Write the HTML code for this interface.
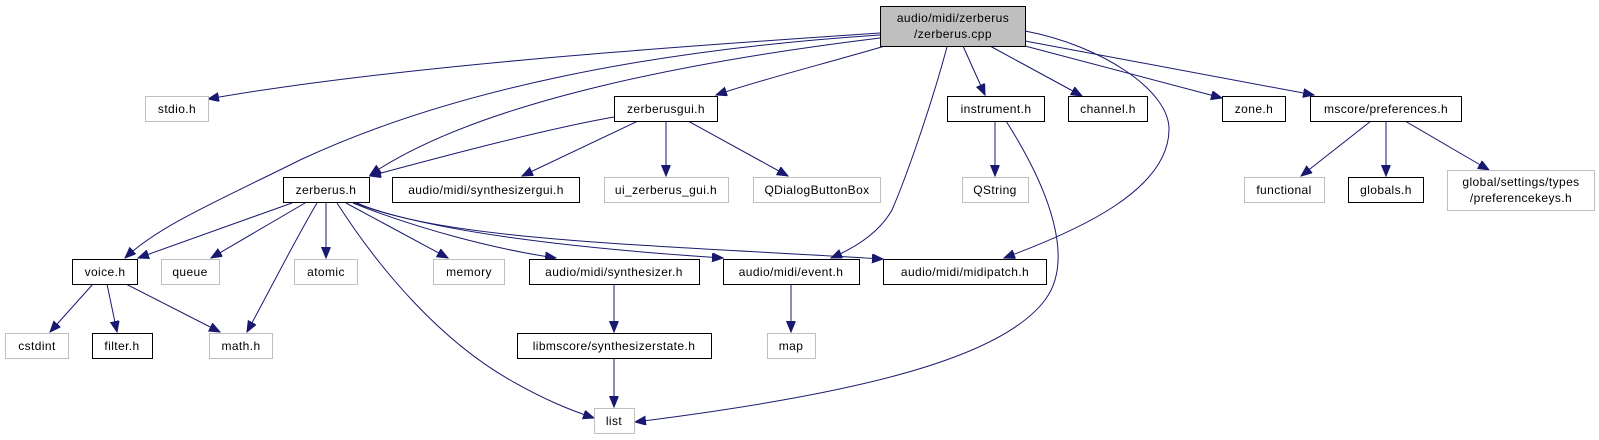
<!DOCTYPE html>
<html><head><meta charset="utf-8"><style>
html,body{margin:0;padding:0;background:#fff;}
svg{display:block;}
text{font-family:"Liberation Sans",sans-serif;font-size:12px;letter-spacing:0.4px;fill:#000;text-anchor:middle;}
.b{fill:#fff;stroke:#000;stroke-width:1;}
.g{fill:#fff;stroke:#bfbfbf;stroke-width:1;}
path{fill:none;stroke:#191970;stroke-width:1;}
</style></head><body>
<svg width="1599" height="440" viewBox="0 0 1599 440" xmlns="http://www.w3.org/2000/svg">
<defs>
<marker id="a" markerUnits="userSpaceOnUse" markerWidth="12" markerHeight="10" refX="11" refY="4.5" orient="auto">
<polygon points="0,0 11,4.5 0,9" fill="#191970" stroke="#191970"/>
</marker>
</defs>
<g marker-end="url(#a)">
<path d="M880,33 C700,45 400,65 208,99"/>
<path d="M885,46 C820,65 760,80 716,95"/>
<path d="M880,38 C700,60 480,100 370,175"/>
<path d="M880,35 C650,50 450,90 300,160 C220,200 160,225 125,258"/>
<path d="M614,117 C540,130 430,160 370,176"/>
<path d="M638,121 L522,176"/>
<path d="M666,121 L666,176"/>
<path d="M688,121 L788,176"/>
<path d="M947,47 C930,110 905,180 892,210 C878,235 850,250 831,258"/>
<path d="M963,46 L985,95"/>
<path d="M990,46 L1082,96"/>
<path d="M1025,46 L1222,98"/>
<path d="M1025,41 L1314,95"/>
<path d="M1025,31 C1100,45 1170,90 1169,130 C1168,190 1080,230 1004,258"/>
<path d="M995,121 L995,176"/>
<path d="M1006,121 C1050,190 1075,260 1045,300 C1000,360 850,395 635,422"/>
<path d="M1371,121 L1301,176"/>
<path d="M1386,121 L1386,176"/>
<path d="M1405,121 L1489,170"/>
<path d="M292,203 L138,258"/>
<path d="M305,203 L211,258"/>
<path d="M317,203 C295,240 270,290 247,332"/>
<path d="M326,203 L326,258"/>
<path d="M337,203 C380,270 440,340 510,380 C545,400 570,410 594,418"/>
<path d="M346,203 L448,258"/>
<path d="M353,203 C420,230 500,250 556,258"/>
<path d="M355,203 C440,235 600,250 723,258"/>
<path d="M357,203 C440,240 650,245 883,259"/>
<path d="M93,284 L50,332"/>
<path d="M107,284 L117,332"/>
<path d="M126,284 L220,332"/>
<path d="M614,284 L614,332"/>
<path d="M614,359 L614,407"/>
<path d="M791,284 L791,332"/>
</g>
<rect x="880.5" y="6.5" width="145" height="40" fill="#bfbfbf" stroke="#000"/>
<text x="953" y="22">audio/midi/zerberus</text>
<text x="953" y="38">/zerberus.cpp</text>

<rect class="g" x="145.5" y="96.5" width="63" height="25"/><text x="177" y="113">stdio.h</text>
<rect class="b" x="614.5" y="96.5" width="103" height="25"/><text x="666" y="113">zerberusgui.h</text>
<rect class="b" x="947.5" y="96.5" width="97" height="25"/><text x="996" y="113">instrument.h</text>
<rect class="b" x="1068.5" y="96.5" width="79" height="25"/><text x="1108" y="113">channel.h</text>
<rect class="b" x="1222.5" y="96.5" width="63" height="25"/><text x="1254" y="113">zone.h</text>
<rect class="b" x="1310.5" y="96.5" width="151" height="25"/><text x="1386" y="113">mscore/preferences.h</text>

<rect class="b" x="283.5" y="177.5" width="86" height="25"/><text x="326" y="194">zerberus.h</text>
<rect class="b" x="392.5" y="177.5" width="187" height="25"/><text x="486" y="194">audio/midi/synthesizergui.h</text>
<rect class="g" x="604.5" y="177.5" width="124" height="25"/><text x="666" y="194">ui_zerberus_gui.h</text>
<rect class="g" x="753.5" y="177.5" width="127" height="25"/><text x="817" y="194">QDialogButtonBox</text>
<rect class="g" x="962.5" y="177.5" width="66" height="25"/><text x="995" y="194">QString</text>
<rect class="g" x="1244.5" y="177.5" width="80" height="25"/><text x="1284" y="194">functional</text>
<rect class="b" x="1348.5" y="177.5" width="75" height="25"/><text x="1386" y="194">globals.h</text>
<rect class="g" x="1447.5" y="170.5" width="147" height="40"/>
<text x="1521" y="186">global/settings/types</text>
<text x="1521" y="202">/preferencekeys.h</text>

<rect class="b" x="72.5" y="259.5" width="65" height="25"/><text x="105" y="276">voice.h</text>
<rect class="g" x="161.5" y="259.5" width="58" height="25"/><text x="190" y="276">queue</text>
<rect class="g" x="294.5" y="259.5" width="63" height="25"/><text x="326" y="276">atomic</text>
<rect class="g" x="433.5" y="259.5" width="71" height="25"/><text x="469" y="276">memory</text>
<rect class="b" x="529.5" y="259.5" width="170" height="25"/><text x="614" y="276">audio/midi/synthesizer.h</text>
<rect class="b" x="723.5" y="259.5" width="136" height="25"/><text x="791" y="276">audio/midi/event.h</text>
<rect class="b" x="883.5" y="259.5" width="163" height="25"/><text x="965" y="276">audio/midi/midipatch.h</text>

<rect class="g" x="5.5" y="333.5" width="63" height="25"/><text x="37" y="350">cstdint</text>
<rect class="b" x="92.5" y="333.5" width="60" height="25"/><text x="122" y="350">filter.h</text>
<rect class="g" x="209.5" y="333.5" width="63" height="25"/><text x="241" y="350">math.h</text>
<rect class="b" x="517.5" y="333.5" width="194" height="25"/><text x="614" y="350">libmscore/synthesizerstate.h</text>
<rect class="g" x="767.5" y="333.5" width="48" height="25"/><text x="791" y="350">map</text>

<rect class="g" x="594.5" y="408.5" width="40" height="25"/><text x="614" y="425">list</text>
</svg>
</body></html>
